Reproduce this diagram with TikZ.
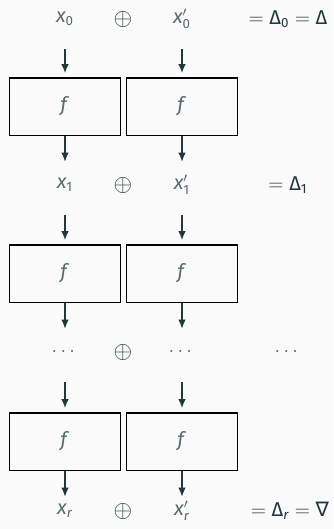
\documentclass[tikz,border=0pt]{standalone}
\usepackage{amsmath}
\usepackage{fontspec}
\setmainfont{Fira Sans}
\newfontfamily\symfont{DejaVu Sans}
\usetikzlibrary{positioning}
\usetikzlibrary{arrows.meta}

\definecolor{mDarkTeal}{HTML}{23373B}
\definecolor{mLight}{HTML}{5A6A6E}
\definecolor{mBackground}{HTML}{FAFAFA}

% x_i and x'_i
\newcommand{\xl}[1]{$\textit{x}_{\text{#1}}$}
\newcommand{\xr}[1]{$\textit{x}'_{\text{#1}}$}
\newcommand{\dl}[1]{\text{Δ}_{\text{#1}}}

\tikzset{
	fcell/.style={draw=black, line width=0.9pt, minimum width=66.6pt, minimum height=34.5pt, inner sep=0pt, text=mLight},
	lbl/.style={text=mLight},
	xor/.style={font=\fontsize{14}{16}\selectfont},
	feed/.style={-{Latex[length=5.6pt,width=4.6pt]}, draw=mDarkTeal, line width=1.2pt, shorten <=18pt, shorten >=2.2pt},
	spill/.style={-{Latex[length=5.6pt,width=4.6pt]}, draw=mDarkTeal, line width=1.2pt, shorten >=13.8pt},
}

\begin{document}
\begin{tikzpicture}[x=0.6pt, y=-0.6pt, color=mDarkTeal, font=\fontsize{12}{14}\selectfont]
	\useasboundingbox[fill=mBackground] (0,0) rectangle (333,529);
	% inputs
	\node[lbl] (x0) at (65,19){\xl{0}};
	\node[xor] (p0) at (123,19){$\oplus$};
	\node[lbl] (y0) at (182,19){\xr{0}};
	\node (d0) at (288,19){$= \dl{0} = \text{Δ}$};
	% round 1
	\node[fcell] (f1) at (65,106.5){\textit{f}};
	\node[fcell] (g1) at (182,106.5){\textit{f}};
	\node[lbl] (x1) at (65,185){\xl{1}};
	\node[xor] (p1) at (123,185){$\oplus$};
	\node[lbl] (y1) at (182,185){\xr{1}};
	\node (d1) at (288,185){$= \dl{1}$};
	% round 2
	\node[fcell] (f2) at (65,273.5){\textit{f}};
	\node[fcell] (g2) at (182,273.5){\textit{f}};
	\node[lbl] (x2) at (65,352){$\cdots$};
	\node[xor] (p2) at (123,352){$\oplus$};
	\node[lbl] (y2) at (182,352){$\cdots$};
	\node[lbl] (d2) at (288,352){$\cdots$};
	% round r
	\node[fcell] (f3) at (65,441.5){\textit{f}};
	\node[fcell] (g3) at (182,441.5){\textit{f}};
	\node[lbl] (x3) at (65,511){\xl{\itshape r}};
	\node[xor] (p3) at (123,511){$\oplus$};
	\node[lbl] (y3) at (182,511){\xr{\itshape r}};
	\node (d3) at (290,511){$= \dl{\itshape r} = \text{\symfont ∇}$};
	% arrows
	\foreach \i/\j in {0/1,1/2,2/3}{
		\draw[feed] (x\i.center) -- (f\j.north);
		\draw[feed] (y\i.center) -- (g\j.north);
		}
	\foreach \j in {1,2}{
		\draw[spill] (f\j.south) -- (x\j.center);
		\draw[spill] (g\j.south) -- (y\j.center);
		}
	\draw[spill, shorten >=8.4pt] (f3.south) -- (x3.center);
	\draw[spill, shorten >=8.4pt] (g3.south) -- (y3.center);
\end{tikzpicture}
\end{document}
